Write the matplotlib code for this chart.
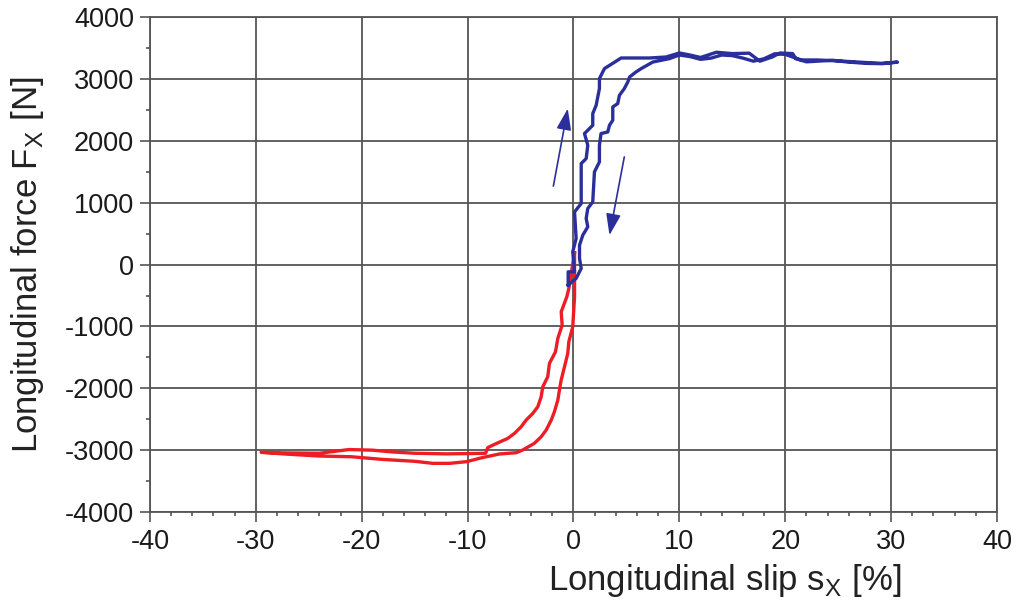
import numpy as np
import matplotlib.pyplot as plt
from matplotlib.ticker import MultipleLocator

plt.rcParams['font.family'] = ['Liberation Sans', 'DejaVu Sans']
plt.rcParams['axes.unicode_minus'] = False

# braking side (red), slip [%] vs force [N]
red_slip = [0.1, 0.1, 0.1, -0.07, -0.44, -0.54, -0.85, -1.16, -1.3, -1.48,
            -1.8, -2.1, -2.58, -3.05, -3.7, -4.8, -5.4, -7.0, -8.6, -10.1,
            -11.7, -13.3, -15.0, -18.0, -21.0, -24.0, -27.0, -29.5, -27.0, -24.0,
            -21.2, -19.0, -17.0, -15.0, -12.0, -9.8, -8.3, -8.1, -7.6, -6.2,
            -5.57, -4.94, -4.47, -3.84, -3.37, -3.05, -2.9, -2.43, -2.27, -1.7,
            -1.48, -1.07, -1.16, -0.63, -0.44, 0.1]
red_force = [190, -35, -520, -1005, -1247, -1435, -1651, -1866, -2000, -2190,
             -2378, -2513, -2675, -2783, -2890, -2998, -3041, -3062, -3120, -3186,
             -3213, -3213, -3180, -3150, -3106, -3095, -3065, -3035, -3045, -3050,
             -2990, -3000, -3030, -3050, -3060, -3055, -3050, -2960, -2917, -2809,
             -2728, -2621, -2513, -2405, -2298, -2136, -1975, -1813, -1597, -1409,
             -1193, -978, -763, -520, -385, 190]

# driving side (blue)
blue_slip = [-0.5, -0.5, 0.1, -0.07, 0.25, 0.1, 0.73, 0.73, 0.73, 1.2,
             1.35, 1.04, 1.82, 1.82, 2.14, 2.45, 2.45, 2.93, 4.5, 7.18,
             8.75, 10.0, 11.0, 12.0, 13.5, 15.0, 16.6, 17.6, 18.8, 19.5,
             20.7, 21.0, 22.0, 24.5, 25.7, 27.6, 29.2, 30.6, 29.0, 27.0,
             25.0, 23.0, 21.5, 20.0, 19.0, 18.0, 17.0, 16.0, 15.0, 14.0,
             13.0, 12.0, 11.0, 10.0, 9.07, 7.5, 6.4, 5.9, 5.3, 5.13,
             4.8, 4.34, 4.18, 3.71, 3.71, 3.4, 3.24, 2.6, 2.45, 2.45,
             1.98, 1.82, 1.35, 1.2, 1.35, 0.88, 0.57, 0.57, 0.73, 0.25,
             -0.5]
blue_force = [-330, -116, -116, 207, 423, 853, 989, 1500, 1635, 1716,
              1931, 2120, 2254, 2443, 2577, 2847, 3009, 3171, 3342, 3342,
              3358, 3423, 3390, 3350, 3435, 3413, 3420, 3290, 3360, 3423,
              3413, 3330, 3280, 3305, 3280, 3255, 3250, 3275, 3255, 3275,
              3295, 3310, 3310, 3400, 3410, 3330, 3290, 3340, 3380, 3390,
              3340, 3320, 3365, 3390, 3332, 3277, 3171, 3116, 3035, 2954,
              2847, 2739, 2605, 2550, 2335, 2254, 2146, 2120, 1931, 1661,
              1500, 1015, 908, 747, 611, 477, 315, 100, -61, -223,
              -330]

# direction arrows (tail -> head)
arrow_up = [(-1.9, 1270), (-0.54, 2524)]
arrow_down = [(4.8, 1742), (3.4, 477)]

fig = plt.figure(figsize=(10.16, 6.07), dpi=100)
ax = fig.add_axes([0.1476, 0.1565, 0.8337, 0.8150])

ax.plot(red_slip, red_force, color='#ee1c25', lw=2.4, solid_joinstyle='round')
ax.plot(blue_slip, blue_force, color='#2b2f9b', lw=2.4, solid_joinstyle='round')

for tail, head in (arrow_up, arrow_down):
    ax.annotate('', xy=head, xytext=tail,
                arrowprops=dict(arrowstyle='-|>,head_length=1.3,head_width=0.45',
                                color='#2b2f9b', lw=1.2, shrinkA=0, shrinkB=0))

ax.set_xlim(-40, 40)
ax.set_ylim(-4000, 4000)
ax.xaxis.set_major_locator(MultipleLocator(10))
ax.xaxis.set_minor_locator(MultipleLocator(2))
ax.yaxis.set_major_locator(MultipleLocator(1000))
ax.yaxis.set_minor_locator(MultipleLocator(500))
ax.grid(True, which='major', color='#555555', lw=1.3)
ax.set_axisbelow(True)
for sp in ax.spines.values():
    sp.set_color('#555555')
    sp.set_linewidth(1.3)
ax.tick_params(which='major', direction='out', length=7.5, width=1.2, color='#555555',
               labelsize=19.5, labelcolor='#1a1a1a')
ax.tick_params(which='minor', direction='out', length=3, width=1.2, color='#555555')
ax.tick_params(axis='x', pad=5)
ax.tick_params(axis='y', pad=4)

ax.set_xlabel('Longitudinal slip s$_\\mathregular{X}$ [%]', fontsize=25, color='#222222')
ax.xaxis.set_label_coords(0.679, -0.101)
ax.set_ylabel('Longitudinal force F$_\\mathregular{X}$ [N]', fontsize=25, color='#222222')
ax.yaxis.set_label_coords(-0.123, 0.5)

fig.savefig('out.png', dpi=100)
